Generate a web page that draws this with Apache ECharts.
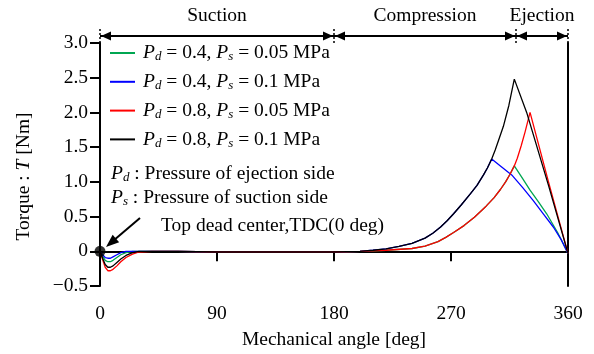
<!DOCTYPE html>
<html>
<head>
<meta charset="utf-8">
<script src="https://cdn.jsdelivr.net/npm/echarts@6/dist/echarts.min.js"></script>
<style>
  html, body { margin: 0; padding: 0; background: #fff; }
  #main { width: 594px; height: 354px; }
</style>
</head>
<body>
<div id="main"></div>
<script>
// values (angle in deg, torque in Nm)
const pdValues = [0.4, 0.4, 0.8, 0.8];
const psValues = [0.05, 0.1, 0.05, 0.1];
const lineColors = ['#00a651', '#0000ff', '#ff0000', '#000000'];

const angleGreen  = [0, 2, 4, 6, 8, 10, 13, 16, 20, 25, 30, 40, 60, 90, 120, 150, 180, 200, 220, 240, 250, 260, 266, 272, 280, 288, 297, 303, 308, 312, 315.4, 318.7, 325, 330.8, 337, 343.6, 352, 360];
const torqueGreen = [0, -0.07, -0.13, -0.15, -0.15, -0.13, -0.09, -0.05, -0.02, 0, 0, 0, 0, -0.01, -0.01, -0.01, -0.01, 0, 0.015, 0.04, 0.075, 0.14, 0.2, 0.27, 0.37, 0.49, 0.65, 0.77, 0.89, 1.0, 1.11, 1.23, 1.05, 0.88, 0.72, 0.54, 0.27, -0.03];

const angleBlue  = [0, 2, 4, 6, 8, 10, 13, 16, 20, 25, 30, 40, 60, 90, 120, 150, 180, 190, 200, 210, 220, 230, 240, 250, 256, 262, 267, 272, 278, 285, 290, 295, 298, 301.3, 308, 316.7, 325, 333.3, 341, 348.7, 355, 360];
const torqueBlue = [0, -0.05, -0.09, -0.1, -0.1, -0.08, -0.05, -0.02, 0, 0, 0, 0, 0, -0.01, -0.01, -0.01, -0.01, -0.005, 0, 0.015, 0.035, 0.07, 0.115, 0.19, 0.26, 0.35, 0.44, 0.54, 0.67, 0.83, 0.95, 1.1, 1.2, 1.33, 1.23, 1.1, 0.92, 0.73, 0.54, 0.35, 0.16, -0.03];

const angleRed  = [0, 2, 4, 6, 8, 10, 13, 16, 20, 25, 30, 40, 60, 90, 120, 150, 180, 200, 220, 240, 250, 260, 266, 272, 280, 288, 297, 303, 308, 312, 315.4, 318.7, 321, 324, 327, 330.8, 345, 360];
const torqueRed = [0, -0.12, -0.23, -0.28, -0.28, -0.26, -0.21, -0.15, -0.09, -0.04, -0.01, 0, 0, -0.01, -0.01, -0.01, -0.01, 0, 0.015, 0.04, 0.075, 0.14, 0.2, 0.27, 0.37, 0.49, 0.65, 0.77, 0.89, 1.0, 1.11, 1.23, 1.34, 1.52, 1.72, 2.0, 1.0, -0.03];

const angleBlack  = [0, 2, 4, 6, 8, 10, 13, 16, 20, 25, 30, 40, 60, 90, 120, 150, 180, 190, 200, 210, 220, 230, 240, 250, 256, 262, 267, 272, 278, 285, 290, 295, 298, 301.3, 304, 307, 310.3, 314.5, 318.7, 328.2, 345, 360];
const torqueBlack = [0, -0.1, -0.19, -0.23, -0.23, -0.21, -0.16, -0.11, -0.06, -0.02, 0, 0, 0, -0.01, -0.01, -0.01, -0.01, -0.005, 0, 0.015, 0.035, 0.07, 0.115, 0.19, 0.26, 0.35, 0.44, 0.54, 0.67, 0.83, 0.95, 1.1, 1.2, 1.33, 1.46, 1.62, 1.8, 2.1, 2.48, 2.0, 0.95, -0.03];

const tdcPoint = [0, 0];
const phaseBounds = [0, 180, 320, 360];
const phaseNames = ['Suction', 'Compression', 'Ejection'];

const FONT = 'Liberation Serif';
const FS = 19.5;
const richText = {
  t: { fontFamily: FONT, fontSize: FS, color: '#000' },
  i: { fontFamily: FONT, fontSize: FS, fontStyle: 'italic', color: '#000' },
  sub: { fontFamily: FONT, fontSize: 13, fontStyle: 'italic', color: '#000', padding: [8, 0, 0, 0] }
};

const angleList = [angleGreen, angleBlue, angleRed, angleBlack];
const torqueList = [torqueGreen, torqueBlue, torqueRed, torqueBlack];
const seriesNames = pdValues.map((pd, i) => 'Pd=' + pd + ', Ps=' + psValues[i]);

const chart = echarts.init(document.getElementById('main'));

const lineSeries = seriesNames.map((name, i) => ({
  name: name,
  type: 'line',
  symbol: 'none',
  data: angleList[i].map((a, k) => [a, torqueList[i][k]]),
  lineStyle: { color: lineColors[i], width: 1.3 },
  itemStyle: { color: lineColors[i] },
  z: 2 + i
}));

chart.setOption({
  animation: false,
  backgroundColor: '#fff',
  textStyle: { fontFamily: FONT },
  grid: { left: 100, right: 26, top: 43, bottom: 68, outerBoundsMode: 'none', containLabel: false },
  legend: {
    data: seriesNames.map(n => ({ name: n, icon: 'rect' })),
    orient: 'vertical',
    left: 105,
    top: 38,
    itemWidth: 25,
    itemHeight: 2,
    itemGap: 8.3,
    textStyle: { fontFamily: FONT, fontSize: FS, color: '#000', rich: richText, padding: [0, 0, 0, 3] },
    formatter: function (name) {
      const i = seriesNames.indexOf(name);
      return '{i|P}{sub|d}{t| = ' + pdValues[i] + ', }{i|P}{sub|s}{t| = ' + psValues[i] + ' MPa}';
    }
  },
  xAxis: [{
    type: 'value',
    min: 0, max: 360, interval: 90,
    name: 'Mechanical angle [deg]',
    nameLocation: 'middle',
    nameGap: 44,
    nameTextStyle: { fontFamily: FONT, fontSize: FS, color: '#000' },
    axisLine: { show: false },
    axisTick: { show: true, inside: false, length: 10, lineStyle: { color: '#000', width: 2 } },
    axisLabel: { fontFamily: FONT, fontSize: FS, color: '#000', margin: 18 },
    splitLine: { show: false }
  }, {
    type: 'value', position: 'top',
    min: 0, max: 360,
    axisLine: { show: true, lineStyle: { color: '#000', width: 2 } },
    axisTick: { show: false }, axisLabel: { show: false }, splitLine: { show: false }
  }],
  yAxis: [{
    type: 'value',
    min: -0.5, max: 3, interval: 0.5,
    name: 'Torque : {i|T} [Nm]',
    nameLocation: 'middle',
    nameGap: 66,
    nameTextStyle: { fontFamily: FONT, fontSize: FS, color: '#000', rich: richText, padding: [0, 24, 0, 0] },
    axisLine: { show: true, onZero: false, lineStyle: { color: '#000', width: 2 } },
    axisTick: { show: true, inside: false, length: 10, lineStyle: { color: '#000', width: 2 } },
    axisLabel: {
      fontFamily: FONT, fontSize: FS, color: '#000', margin: 12,
      formatter: function (v) {
        if (Math.abs(v) < 1e-9) return '0';
        return (v < 0 ? '\u2212' : '') + Math.abs(v).toFixed(1);
      }
    },
    splitLine: { show: false }
  }, {
    type: 'value', position: 'right',
    min: -0.5, max: 3,
    axisLine: { show: true, onZero: false, lineStyle: { color: '#000', width: 2 } },
    axisTick: { show: false }, axisLabel: { show: false }, splitLine: { show: false }
  }],
  series: lineSeries.concat([{
    name: 'TDC',
    type: 'scatter',
    data: [tdcPoint],
    symbolSize: 11,
    itemStyle: { color: '#000' },
    z: 10
  }])
});

// annotations: phase arrows on top, notes, TDC arrow
function px(pt) { return chart.convertToPixel({ gridIndex: 0 }, pt); }
function head(tip, dx, dy, len, half) {
  const bx = tip[0] - dx * len, by = tip[1] - dy * len;
  return [tip, [bx - dy * half, by + dx * half], [bx + dy * half, by - dx * half]];
}

const graphics = [];
const arrowY = 36;
const topY = px([0, 3])[1];
const bx = phaseBounds.map(b => px([b, 0])[0]);

graphics.push({ type: 'line', shape: { x1: bx[0], y1: arrowY, x2: bx[bx.length - 1], y2: arrowY }, style: { stroke: '#000', lineWidth: 2 } });
bx.forEach(x => {
  graphics.push({ type: 'line', shape: { x1: x, y1: 29, x2: x, y2: topY }, style: { stroke: '#000', lineWidth: 1.5, lineDash: [2, 2] } });
});
for (let k = 0; k < phaseNames.length; k++) {
  const x0 = bx[k], x1 = bx[k + 1];
  graphics.push({ type: 'polygon', shape: { points: head([x0 + 1, arrowY], -1, 0, 10, 4.5) }, style: { fill: '#000' } });
  graphics.push({ type: 'polygon', shape: { points: head([x1 - 1, arrowY], 1, 0, 10, 4.5) }, style: { fill: '#000' } });
  graphics.push({
    type: 'text', x: (x0 + x1) / 2, y: 16,
    style: { text: phaseNames[k], fontFamily: FONT, fontSize: FS, fill: '#000', align: 'center', verticalAlign: 'middle' }
  });
}

graphics.push({
  type: 'text', x: 111, y: 174,
  style: { text: '{i|P}{sub|d}{t| : Pressure of ejection side}', rich: richText, verticalAlign: 'middle' }
});
graphics.push({
  type: 'text', x: 111, y: 198,
  style: { text: '{i|P}{sub|s}{t| : Pressure of suction side}', rich: richText, verticalAlign: 'middle' }
});
graphics.push({
  type: 'text', x: 161, y: 226,
  style: { text: 'Top dead center,TDC(0 deg)', fontFamily: FONT, fontSize: FS, fill: '#000', verticalAlign: 'middle' }
});

const aFrom = [140, 218], aTip = [106, 247];
const dxA = aTip[0] - aFrom[0], dyA = aTip[1] - aFrom[1];
const lenA = Math.sqrt(dxA * dxA + dyA * dyA);
const ux = dxA / lenA, uy = dyA / lenA;
graphics.push({ type: 'line', shape: { x1: aFrom[0], y1: aFrom[1], x2: aTip[0] - ux * 8, y2: aTip[1] - uy * 8 }, style: { stroke: '#000', lineWidth: 2 } });
graphics.push({ type: 'polygon', shape: { points: head(aTip, ux, uy, 13, 5) }, style: { fill: '#000' } });

chart.setOption({ graphic: graphics });
</script>
</body>
</html>
